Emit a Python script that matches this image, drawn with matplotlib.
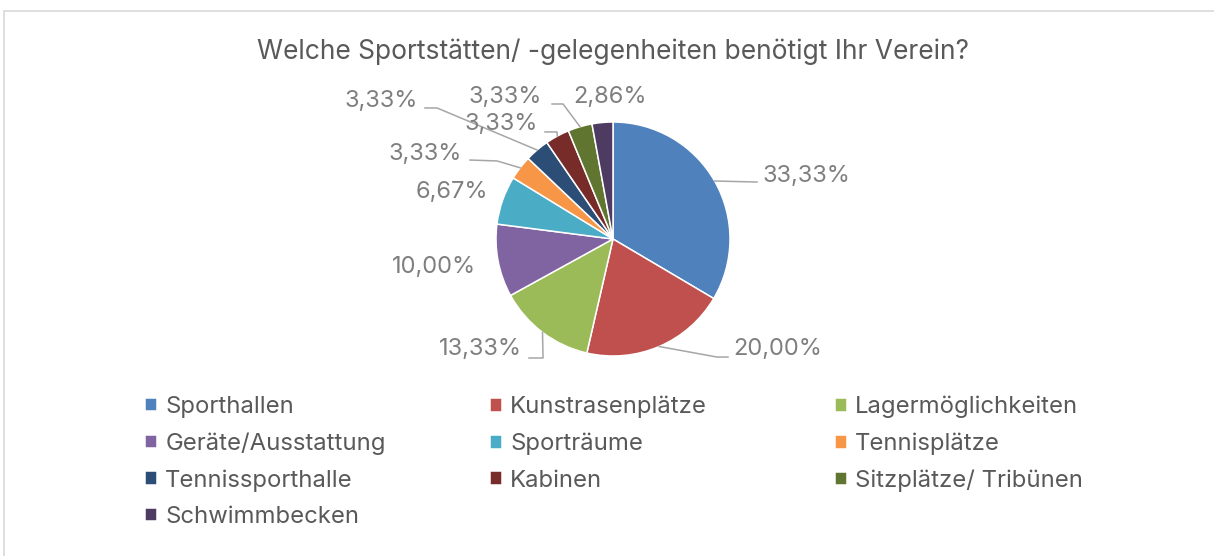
import numpy as np
import matplotlib
matplotlib.use("Agg")
import matplotlib.pyplot as plt
from matplotlib.patches import Rectangle

plt.rcParams['font.family'] = ['Inter', 'DejaVu Sans']

title = "Welche Sportstätten/ -gelegenheiten benötigt Ihr Verein?"
categories = ["Sporthallen", "Kunstrasenplätze", "Lagermöglichkeiten",
              "Geräte/Ausstattung", "Sporträume", "Tennisplätze",
              "Tennissporthalle", "Kabinen", "Sitzplätze/ Tribünen",
              "Schwimmbecken"]
values = [33.33, 20.00, 13.33, 10.00, 6.67, 3.33, 3.33, 3.33, 3.33, 2.86]
colors = ["#4F81BD", "#C0504D", "#9BBB59", "#8064A2", "#4BACC6",
          "#F79646", "#2C4D75", "#772C2A", "#5F7530", "#4D3B62"]

# label anchor (x, y, ha) in pie units and optional leader bends
label_pos = [(1.274, 0.538, "left"), (1.026, -0.94, "left"),
             (-0.778, -0.94, "right"), (-1.171, -0.239, "right"),
             (-1.068, 0.402, "right"), (-1.291, 0.726, "right"),
             (-1.667, 1.179, "right"), (-0.641, 0.983, "right"),
             (-0.607, 1.214, "right"), (-0.342, 1.214, "left")]
leaders = [[(1.231, 0.487)],
           [(0.889, -1.009), (0.983, -1.009)],
           [(-0.598, -1.017), (-0.718, -1.017)],
           None, None,
           [(-0.991, 0.667), (-1.222, 0.675)],
           [(-1.504, 1.12), (-1.607, 1.12)],
           [(-0.479, 0.915), (-0.581, 0.915)],
           [(-0.427, 1.154), (-0.521, 1.154)],
           None]

W, H = 1214, 556
fig = plt.figure(figsize=(W / 100, H / 100), dpi=100)

# chart frame (runs off the right and bottom edge)
fig.patches.append(Rectangle((3.5 / W, -0.05), 1.1, 1 - 11.5 / H + 0.05,
                             transform=fig.transFigure, fill=False,
                             edgecolor="#d9d9d9", linewidth=1.2))

cx, cy, r = 613, 239, 117
ax = fig.add_axes([(cx - r) / W, (H - cy - r) / H, 2 * r / W, 2 * r / H])
wedges, _ = ax.pie(values, colors=colors, startangle=90, counterclock=False,
                   radius=1, wedgeprops=dict(edgecolor="white", linewidth=1.1))
ax.set_xlim(-1, 1)
ax.set_ylim(-1, 1)
ax.set_aspect("equal")
ax.axis("off")

for w, v, (lx, ly, ha), lead in zip(wedges, values, label_pos, leaders):
    txt = f"{v:.2f}".replace(".", ",") + "%"
    ax.text(lx, ly, txt, ha=ha, va="center", fontsize=17, color="#7f7f7f")
    if lead:
        mid = np.deg2rad((w.theta1 + w.theta2) / 2)
        pts = [(np.cos(mid), np.sin(mid))] + lead
        xs, ys = zip(*pts)
        ax.plot(xs, ys, color="#a6a6a6", linewidth=1.1, clip_on=False)

fig.text(cx / W, 1 - 52 / H, title, ha="center", va="center",
         fontsize=19, color="#595959")

# legend in three columns, filled row by row
col_x = [145, 490, 835]
for c in range(3):
    idx = list(range(c, len(categories), 3))
    fig.legend([wedges[i] for i in idx], [categories[i] for i in idx],
               loc="upper left", bbox_to_anchor=(col_x[c] / W, 1 - 396 / H),
               frameon=False, fontsize=17.2, labelcolor="#595959",
               handlelength=0.5, handleheight=0.5, handletextpad=0.35,
               borderpad=0, borderaxespad=0, labelspacing=0.6)

fig.savefig("out.png", dpi=100)
